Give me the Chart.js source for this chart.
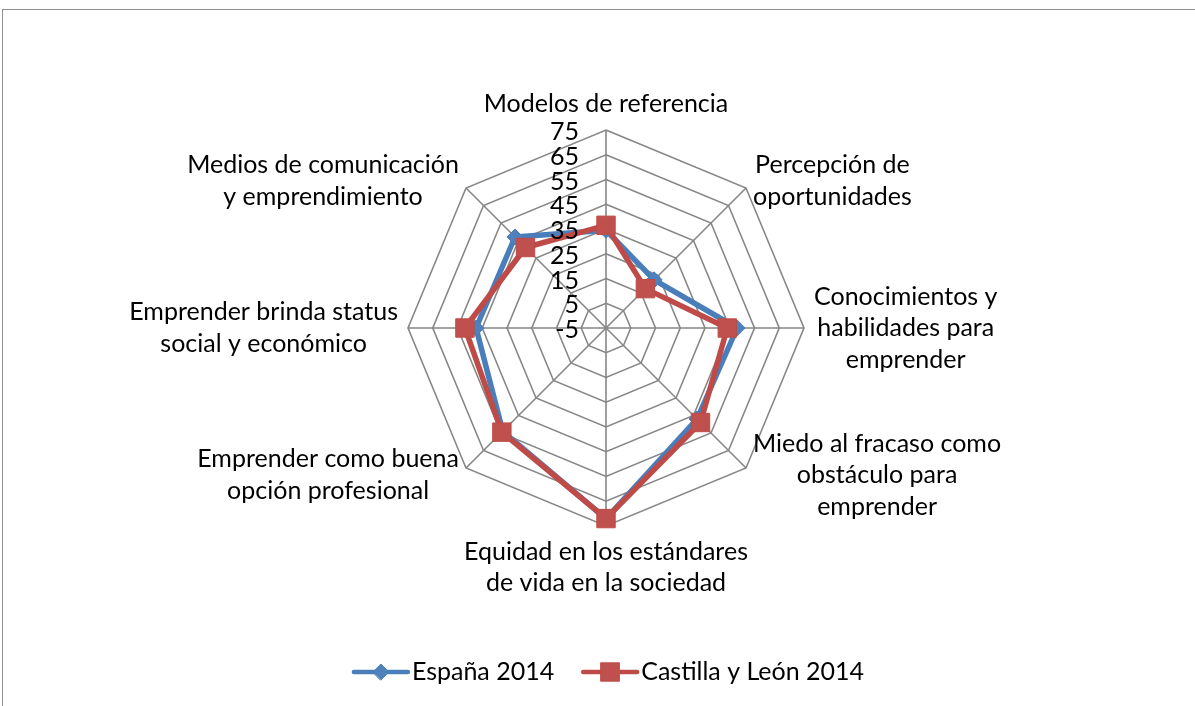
<!DOCTYPE html>
<html>
<head>
<meta charset="utf-8">
<script src="https://cdn.jsdelivr.net/npm/chart.js@4.4.0/dist/chart.umd.min.js"></script>
<style>
html, body { margin: 0; padding: 0; background: #fff; overflow: hidden; }
#wrap { position: relative; width: 1195px; height: 706px; }
#frame { position: absolute; left: 2px; top: 9px; width: 1300px; height: 800px; border: 1px solid #8e8e8e; box-sizing: border-box; }
canvas { position: absolute; left: 0; top: 0; }
</style>
</head>
<body>
<div id="wrap">
    <div id="frame"></div>
    <canvas id="radarChart" width="1195" height="706"></canvas>
</div>
<script>
// categories, clockwise from the top
const categories = [
    ["Modelos de referencia"],
    ["Percepción de", "oportunidades"],
    ["Conocimientos y", "habilidades para", "emprender"],
    ["Miedo al fracaso como", "obstáculo para", "emprender"],
    ["Equidad en los estándares", "de vida en la sociedad"],
    ["Emprender como buena", "opción profesional"],
    ["Emprender brinda status", "social y económico"],
    ["Medios de comunicación", "y emprendimiento"]
];
const espana2014 = [34.5, 22.5, 48, 47, 72, 54, 47.5, 47];
const castillaLeon2014 = [36.5, 17.5, 44, 49, 72, 54.5, 52, 41];
const axisMin = -5;
const axisMax = 75;
const axisStep = 10;

const FONT = "Lato, 'Open Sans', sans-serif";
const FONT_SIZE = 25;
const LINE_H = 31.5;

// Excel-like tick labels, category labels and legend
const excelLabels = {
    id: "excelLabels",
    afterDatasetsDraw(chart) {
        const ctx = chart.ctx;
        const r = chart.scales.r;
        ctx.save();
        ctx.font = FONT_SIZE + "px " + FONT;
        ctx.fillStyle = "#000";
        ctx.textBaseline = "middle";

        // tick labels, right aligned left of the vertical axis
        ctx.textAlign = "right";
        r.ticks.forEach(t => {
            const d = r.getDistanceFromCenterForValue(t.value);
            ctx.fillText(t.label, r.xCenter - 27, r.yCenter - d + 2);
        });

        // category labels
        ctx.textAlign = "center";
        chart.data.labels.forEach((lines, i) => {
            const p = r.getPointPosition(i, r.drawingArea + 10);
            const w = Math.max(...lines.map(s => ctx.measureText(s).width));
            const h = lines.length * LINE_H;
            const dx = p.x - r.xCenter;
            let cx, top;
            if (Math.abs(dx) < 1) {
                cx = p.x;
                top = p.y < r.yCenter ? p.y - h : p.y;
            } else {
                cx = dx > 0 ? p.x + w / 2 : p.x - w / 2;
                top = p.y - h / 2;
            }
            lines.forEach((s, k) => ctx.fillText(s, cx, top + LINE_H * (k + 0.5)));
        });

        // legend
        const lineW = 54, gap = 4, spacing = 29, ly = 672;
        const items = chart.data.datasets.map(ds => ({ ds, tw: ctx.measureText(ds.label).width }));
        const total = items.reduce((s, it) => s + lineW + gap + it.tw, 0) + spacing * (items.length - 1);
        let x = 609 - total / 2;
        ctx.textAlign = "left";
        items.forEach(it => {
            const ds = it.ds;
            ctx.strokeStyle = ds.borderColor;
            ctx.lineWidth = 4.5;
            ctx.lineCap = "round";
            ctx.beginPath();
            ctx.moveTo(x, ly);
            ctx.lineTo(x + lineW, ly);
            ctx.stroke();
            ctx.fillStyle = ds.pointBackgroundColor;
            ctx.strokeStyle = ds.pointBorderColor;
            ctx.lineWidth = ds.pointBorderWidth;
            Chart.helpers.drawPoint(ctx, {
                pointStyle: ds.pointStyle,
                radius: ds.pointRadius,
                borderWidth: ds.pointBorderWidth,
                rotation: 0
            }, x + lineW / 2, ly);
            ctx.fillStyle = "#000";
            ctx.fillText(ds.label, x + lineW + gap, ly);
            x += lineW + gap + it.tw + spacing;
        });
        ctx.restore();
    }
};

new Chart(document.getElementById("radarChart"), {
    type: "radar",
    data: {
        labels: categories,
        datasets: [{
            label: "España 2014",
            data: espana2014,
            borderColor: "#4A7EBB",
            backgroundColor: "transparent",
            borderWidth: 5.5,
            borderJoinStyle: "round",
            fill: false,
            pointStyle: "rectRot",
            pointRadius: 8,
            pointBorderWidth: 1,
            pointBackgroundColor: "#4F81BD",
            pointBorderColor: "#4A7EBB",
            order: 1
        }, {
            label: "Castilla y León 2014",
            data: castillaLeon2014,
            borderColor: "#BE4B48",
            backgroundColor: "transparent",
            borderWidth: 5.5,
            borderJoinStyle: "round",
            fill: false,
            pointStyle: "rect",
            pointRadius: 13,
            pointBorderWidth: 1,
            pointBackgroundColor: "#C0504D",
            pointBorderColor: "#BE4B48",
            order: 0
        }]
    },
    options: {
        responsive: false,
        animation: false,
        devicePixelRatio: 1,
        layout: { padding: { top: 130, bottom: 180, left: 306, right: 289 } },
        scales: {
            r: {
                min: axisMin,
                max: axisMax,
                startAngle: 0,
                ticks: { stepSize: axisStep, display: false },
                grid: { color: "#868686", lineWidth: 1.6 },
                angleLines: { color: "#868686", lineWidth: 1.6 },
                pointLabels: { display: false }
            }
        },
        plugins: {
            legend: { display: false },
            tooltip: { enabled: false }
        }
    },
    plugins: [excelLabels]
});
</script>
</body>
</html>
